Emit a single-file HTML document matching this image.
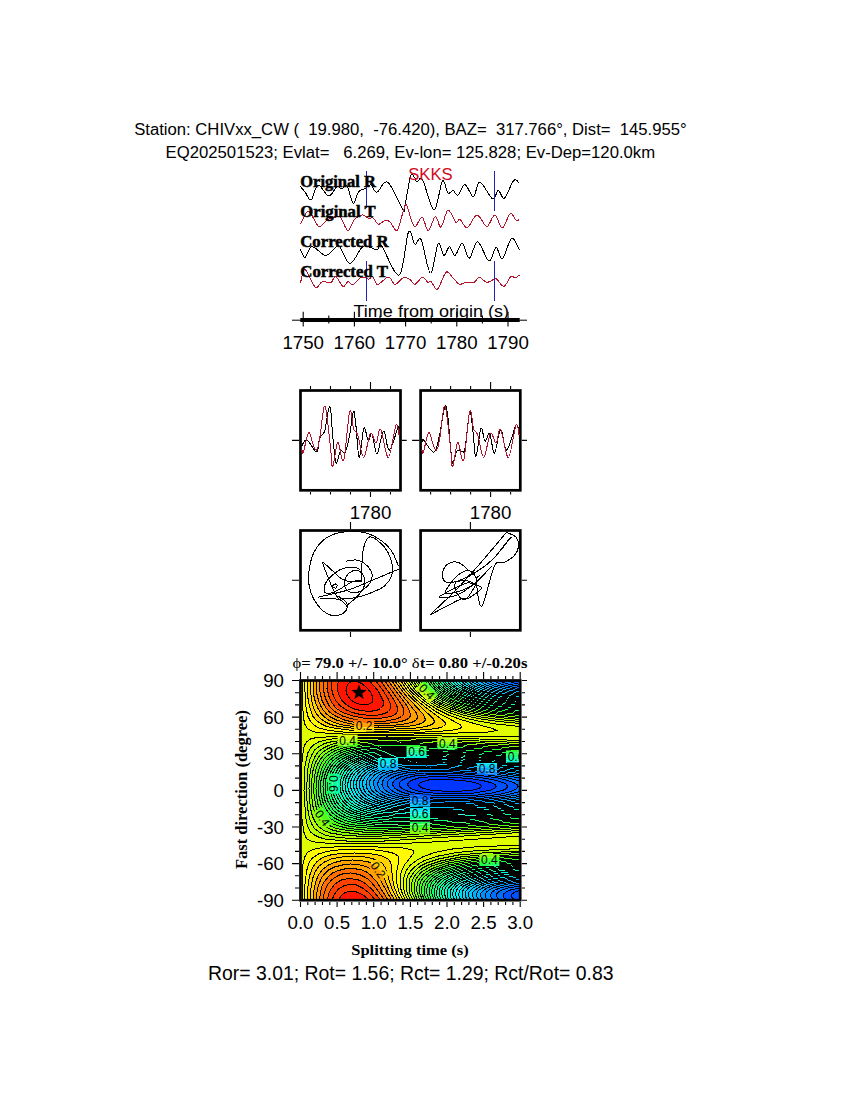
<!DOCTYPE html>
<html><head><meta charset="utf-8"><style>html,body{margin:0;padding:0;background:#fff;width:850px;height:1100px;overflow:hidden}svg{display:block}</style></head><body>
<svg width="850" height="1100" viewBox="0 0 850 1100"><text x="134.2" y="134.8" font-family='"Liberation Sans", sans-serif' font-size="16.00" font-weight="normal" fill="#000" text-anchor="start" textLength="552.5" lengthAdjust="spacingAndGlyphs" xml:space="preserve">Station: CHIVxx_CW (  19.980,  -76.420), BAZ=  317.766°, Dist=  145.955°</text>
<text x="165.6" y="157.6" font-family='"Liberation Sans", sans-serif' font-size="16.00" font-weight="normal" fill="#000" text-anchor="start" textLength="489.5" lengthAdjust="spacingAndGlyphs" xml:space="preserve">EQ202501523; Evlat=   6.269, Ev-lon= 125.828; Ev-Dep=120.0km</text>
<path d="M300.4 186.4 C301.2 187.3 303.2 189.8 305.0 192.0 C306.8 194.2 309.0 201.1 311.2 199.9 C313.4 198.7 315.1 185.7 318.0 185.0 C320.9 184.3 325.6 195.7 328.8 195.9 C332.0 196.1 334.9 187.6 337.0 186.4 C339.1 185.2 340.0 189.1 341.7 189.0 C343.4 188.9 345.1 183.3 347.0 185.7 C348.9 188.1 351.3 202.3 353.2 203.3 C355.1 204.3 356.6 194.3 358.6 191.8 C360.6 189.3 363.4 189.5 365.4 188.4 C367.4 187.3 368.9 184.4 370.8 185.0 C372.7 185.6 374.1 192.6 376.9 192.2 C379.7 191.8 383.3 179.3 387.7 182.3 C392.1 185.3 400.3 206.2 403.2 210.0 C406.1 213.8 403.8 210.8 405.0 205.2 C406.2 199.6 409.1 180.9 410.6 176.2 C412.1 171.5 413.1 176.1 414.2 177.0 C415.3 177.9 415.6 181.4 417.0 181.9 C418.4 182.4 419.8 175.1 422.6 179.8 C425.4 184.5 430.7 209.9 434.0 210.1 C437.3 210.3 440.1 184.0 442.4 181.2 C444.7 178.4 446.2 191.7 448.0 193.2 C449.8 194.7 451.3 190.1 453.0 190.4 C454.7 190.8 456.0 196.2 458.0 195.3 C460.0 194.4 462.4 184.5 465.0 184.7 C467.6 184.9 471.0 197.2 473.5 196.7 C476.0 196.2 476.6 181.6 479.8 181.9 C483.0 182.2 489.4 197.4 492.5 198.8 C495.6 200.2 496.2 190.5 498.2 190.4 C500.2 190.3 501.9 199.8 504.5 198.1 C507.1 196.4 511.2 183.0 513.7 180.5 C516.2 178.0 518.5 182.8 519.4 183.3" fill="none" stroke="#000" stroke-width="1" shape-rendering="crispEdges"/>
<path d="M300.4 224.3 C301.8 222.2 305.4 211.1 308.5 211.4 C311.6 211.7 315.5 225.0 318.7 226.3 C321.9 227.7 324.9 221.0 327.5 219.5 C330.1 218.0 332.1 217.9 334.2 217.5 C336.3 217.1 338.0 214.7 340.3 216.8 C342.6 219.0 345.4 230.0 347.8 230.4 C350.2 230.8 352.0 222.1 354.5 219.5 C357.0 216.9 360.4 215.0 362.6 214.8 C364.9 214.6 366.2 217.6 368.0 218.2 C369.8 218.8 371.8 217.2 373.5 218.2 C375.2 219.2 376.4 223.9 378.2 224.3 C380.0 224.8 382.4 221.4 384.3 220.9 C386.2 220.4 387.6 220.0 389.7 221.6 C391.8 223.2 394.9 232.1 397.1 230.4 C399.4 228.7 401.6 215.6 403.2 211.4 C404.8 207.2 404.8 202.8 406.6 205.3 C408.4 207.8 411.6 224.4 414.2 226.4 C416.8 228.4 419.6 216.5 422.0 217.2 C424.4 217.9 426.1 230.7 428.3 230.6 C430.5 230.5 433.3 217.1 435.4 216.5 C437.5 215.9 438.9 228.2 441.0 227.1 C443.1 226.0 445.5 210.9 448.0 210.1 C450.5 209.3 453.8 220.6 455.8 222.1 C457.8 223.6 458.1 218.4 460.0 219.3 C461.9 220.2 464.3 228.5 467.1 227.8 C469.9 227.1 473.7 215.3 477.0 215.1 C480.3 214.9 483.9 226.4 486.9 226.4 C489.8 226.4 492.1 214.9 494.7 215.1 C497.3 215.3 499.8 228.1 502.4 227.8 C505.0 227.6 507.8 214.8 510.2 213.6 C512.5 212.4 515.0 219.8 516.5 220.7 C518.0 221.6 518.9 219.5 519.4 219.3" fill="none" stroke="#b4142c" stroke-width="1" shape-rendering="crispEdges"/>
<path d="M300.4 249.4 C301.2 250.8 303.2 258.0 305.1 257.5 C307.0 257.0 308.5 246.9 311.9 246.6 C315.3 246.2 321.7 255.1 325.4 255.4 C329.1 255.8 331.8 250.2 334.2 248.7 C336.6 247.2 337.0 244.1 339.6 246.6 C342.2 249.1 346.2 263.4 349.8 263.6 C353.4 263.8 358.7 250.9 361.3 248.0 C363.9 245.1 363.4 245.9 365.4 246.0 C367.4 246.1 371.5 248.0 373.5 248.7 C375.5 249.4 376.1 250.4 377.5 250.0 C378.9 249.6 378.0 241.8 381.6 246.0 C385.2 250.2 394.7 277.3 399.2 275.0 C403.7 272.7 405.9 237.2 408.5 232.1 C411.1 226.9 412.8 242.8 414.9 244.1 C417.0 245.4 418.6 235.0 421.2 239.8 C423.8 244.6 427.6 272.4 430.4 273.0 C433.2 273.6 436.0 246.3 438.2 243.4 C440.4 240.5 441.9 254.8 443.8 255.4 C445.7 256.0 447.6 246.9 449.5 246.9 C451.4 246.9 453.0 256.0 455.1 255.4 C457.2 254.8 459.9 242.9 462.2 243.4 C464.5 243.9 466.6 258.4 469.2 258.2 C471.8 257.9 474.4 241.4 477.7 241.9 C481.0 242.4 485.9 260.1 489.0 261.0 C492.1 261.9 493.9 247.9 496.1 247.6 C498.3 247.2 499.8 260.4 502.4 258.9 C505.0 257.4 508.8 239.9 511.6 238.4 C514.4 236.9 518.1 247.8 519.4 249.7" fill="none" stroke="#000" stroke-width="1" shape-rendering="crispEdges"/>
<path d="M300.4 283.2 C301.2 280.9 302.6 268.9 305.1 269.6 C307.6 270.3 312.5 285.2 315.3 287.2 C318.1 289.2 319.4 282.6 322.0 281.8 C324.6 281.0 328.6 283.4 330.9 282.5 C333.2 281.6 333.6 275.7 335.6 276.4 C337.6 277.1 341.0 285.7 343.0 286.6 C345.0 287.5 346.1 282.2 347.8 281.8 C349.5 281.4 350.9 285.3 353.2 284.5 C355.4 283.7 358.7 278.0 361.3 277.1 C363.9 276.2 366.8 279.2 368.7 279.1 C370.6 279.0 371.3 275.5 372.8 276.4 C374.3 277.3 374.9 284.4 377.5 284.5 C380.1 284.6 385.5 277.1 388.4 277.1 C391.3 277.1 392.6 284.4 395.1 284.5 C397.6 284.6 400.7 278.7 403.2 277.8 C405.7 276.9 408.1 278.3 410.0 279.4 C411.9 280.5 412.8 284.7 414.9 284.3 C417.0 283.9 420.5 277.6 422.6 277.2 C424.7 276.8 426.2 281.5 427.6 282.2 C429.0 282.9 429.5 280.3 431.1 281.5 C432.8 282.7 435.0 290.7 437.5 289.2 C440.0 287.7 443.4 274.2 446.0 272.3 C448.6 270.4 450.8 275.9 453.0 277.9 C455.2 279.9 457.3 283.6 459.4 284.3 C461.5 285.0 463.2 282.6 465.7 282.2 C468.2 281.8 472.0 283.0 474.2 282.2 C476.4 281.4 477.1 277.2 479.1 277.2 C481.1 277.2 484.2 281.6 486.2 282.2 C488.2 282.8 489.5 281.4 491.1 280.8 C492.8 280.2 494.0 277.7 496.1 278.6 C498.2 279.5 501.3 286.8 503.8 286.4 C506.3 286.0 509.0 277.9 510.9 276.5 C512.8 275.1 513.7 278.1 515.1 277.9 C516.5 277.7 518.7 275.6 519.4 275.1" fill="none" stroke="#b4142c" stroke-width="1" shape-rendering="crispEdges"/>
<path d="M366.5 171 V207.5 M494.5 171 V211 M366.5 261 V300.5 M494.5 261 V300.5" stroke="#2222b8" stroke-width="1" shape-rendering="crispEdges"/>
<text x="300.3" y="186.8" font-family='"Liberation Serif", serif' font-size="16.20" font-weight="bold" fill="#000" text-anchor="start" textLength="75.5" lengthAdjust="spacingAndGlyphs" stroke="#000" stroke-width="0.5">Original R</text>
<text x="300.3" y="216.8" font-family='"Liberation Serif", serif' font-size="16.20" font-weight="bold" fill="#000" text-anchor="start" textLength="75.3" lengthAdjust="spacingAndGlyphs" stroke="#000" stroke-width="0.5">Original T</text>
<text x="300.3" y="246.6" font-family='"Liberation Serif", serif' font-size="16.20" font-weight="bold" fill="#000" text-anchor="start" textLength="88.3" lengthAdjust="spacingAndGlyphs" stroke="#000" stroke-width="0.5">Corrected R</text>
<text x="300.3" y="277.1" font-family='"Liberation Serif", serif' font-size="16.20" font-weight="bold" fill="#000" text-anchor="start" textLength="87.6" lengthAdjust="spacingAndGlyphs" stroke="#000" stroke-width="0.5">Corrected T</text>
<text x="408.2" y="179.7" font-family='"Liberation Sans", sans-serif' font-size="15.60" font-weight="normal" fill="#d00a1e" text-anchor="start" textLength="44.5" lengthAdjust="spacingAndGlyphs" >SKKS</text>
<path d="M292 320.2 H527" stroke="#000" stroke-width="1"/>
<path d="M300.3 320 H519.7" stroke="#000" stroke-width="3.8"/>
<path d="M303.2 311.8 V326.5 M354.4 311.8 V326.5 M405.6 311.8 V326.5 M456.8 311.8 V326.5 M508.0 311.8 V326.5 M328.8 315.5 V323.5 M380.0 315.5 V323.5 M431.2 315.5 V323.5 M482.4 315.5 V323.5 " stroke="#000" stroke-width="1.1"/>
<text x="353.5" y="316.8" font-family='"Liberation Sans", sans-serif' font-size="16.90" font-weight="normal" fill="#000" text-anchor="start" textLength="155.6" lengthAdjust="spacingAndGlyphs" >Time from origin (s)</text>
<text x="303.2" y="348.8" font-family='"Liberation Sans", sans-serif' font-size="18.70" font-weight="normal" fill="#000" text-anchor="middle" >1750</text>
<text x="354.4" y="348.8" font-family='"Liberation Sans", sans-serif' font-size="18.70" font-weight="normal" fill="#000" text-anchor="middle" >1760</text>
<text x="405.6" y="348.8" font-family='"Liberation Sans", sans-serif' font-size="18.70" font-weight="normal" fill="#000" text-anchor="middle" >1770</text>
<text x="456.8" y="348.8" font-family='"Liberation Sans", sans-serif' font-size="18.70" font-weight="normal" fill="#000" text-anchor="middle" >1780</text>
<text x="508.0" y="348.8" font-family='"Liberation Sans", sans-serif' font-size="18.70" font-weight="normal" fill="#000" text-anchor="middle" >1790</text>
<rect x="300.5" y="390.5" width="100.0" height="99.8" fill="none" stroke="#000" stroke-width="2.7"/>
<path d="M310.5 386.0 V389 M310.5 492 V494.5 M330.5 386.0 V389 M330.5 492 V494.5 M350.5 386.0 V389 M350.5 492 V494.5 M370.5 382.0 V389 M370.5 492 V497.0 M390.5 386.0 V389 M390.5 492 V494.5 " stroke="#000" stroke-width="1.1"/>
<text x="370.5" y="518.7" font-family='"Liberation Sans", sans-serif' font-size="18.70" font-weight="normal" fill="#000" text-anchor="middle" >1780</text>
<rect x="300.5" y="530.5" width="100.0" height="99.8" fill="none" stroke="#000" stroke-width="2.7"/>
<path d="M350.5 522 V529 M350.5 632 V637" stroke="#000" stroke-width="1.1"/>
<rect x="420.6" y="390.5" width="99.7" height="99.8" fill="none" stroke="#000" stroke-width="2.7"/>
<path d="M430.6 386.0 V389 M430.6 492 V494.5 M450.6 386.0 V389 M450.6 492 V494.5 M470.6 386.0 V389 M470.6 492 V494.5 M490.6 382.0 V389 M490.6 492 V497.0 M510.6 386.0 V389 M510.6 492 V494.5 " stroke="#000" stroke-width="1.1"/>
<text x="490.6" y="518.7" font-family='"Liberation Sans", sans-serif' font-size="18.70" font-weight="normal" fill="#000" text-anchor="middle" >1780</text>
<rect x="420.6" y="530.5" width="99.7" height="99.8" fill="none" stroke="#000" stroke-width="2.7"/>
<path d="M470.4 522 V529 M470.4 632 V637" stroke="#000" stroke-width="1.1"/>
<path d="M301.8 445.8 C302.6 444.8 304.4 439.0 306.9 440.0 C309.4 441.0 314.6 452.2 316.7 452.0 C318.8 451.8 318.3 441.9 319.6 438.5 C320.9 435.1 323.6 434.0 324.7 431.3 C325.8 428.6 325.4 426.6 326.2 422.5 C327.0 418.4 328.6 407.8 329.4 406.5 C330.2 405.2 330.8 411.1 331.2 414.5 C331.6 417.9 331.5 420.8 332.0 426.9 C332.5 433.0 333.5 444.8 334.2 450.9 C334.9 456.9 335.2 463.2 336.3 463.2 C337.4 463.2 339.2 452.7 340.7 450.9 C342.2 449.1 343.7 454.7 345.1 452.3 C346.6 449.9 348.0 443.1 349.4 436.3 C350.8 429.5 352.3 413.1 353.4 411.3 C354.5 409.5 354.9 417.7 355.9 425.4 C356.9 433.1 357.9 456.9 359.2 457.4 C360.5 457.9 362.4 431.1 363.9 428.3 C365.4 425.5 367.0 439.9 368.3 440.7 C369.6 441.5 370.4 431.2 371.9 433.4 C373.3 435.6 375.1 454.1 377.0 453.8 C378.9 453.5 381.4 431.9 383.5 431.3 C385.6 430.7 386.9 450.7 389.3 450.1 C391.7 449.5 396.4 431.1 398.0 427.6 C399.6 424.1 398.9 428.8 399.1 429.0" fill="none" stroke="#000" stroke-width="1" shape-rendering="crispEdges"/>
<path d="M301.8 449.4 C302.1 449.9 302.2 455.1 303.3 452.3 C304.4 449.5 307.1 434.1 308.7 432.7 C310.3 431.2 311.4 440.7 312.7 443.6 C314.0 446.5 315.4 450.6 316.5 450.0 C317.6 449.4 318.2 447.2 319.5 440.0 C320.8 432.8 322.9 409.5 324.3 406.5 C325.7 403.5 326.6 415.0 327.6 421.8 C328.6 428.6 329.6 439.7 330.5 447.2 C331.4 454.7 331.5 467.7 332.7 466.9 C333.9 466.1 336.0 443.3 337.8 442.2 C339.6 441.1 341.6 465.4 343.6 460.3 C345.6 455.2 348.0 416.8 349.7 411.6 C351.4 406.4 352.4 425.2 353.7 429.1 C355.0 433.0 356.0 430.2 357.7 434.9 C359.4 439.6 361.6 457.6 363.7 457.4 C365.8 457.1 368.4 435.8 370.5 433.4 C372.6 431.0 374.3 443.6 376.0 443.0 C377.7 442.4 378.5 427.1 380.6 429.5 C382.7 431.9 385.8 458.1 388.4 457.4 C390.9 456.7 394.1 429.1 395.9 425.4 C397.7 421.6 398.6 433.3 399.1 434.9" fill="none" stroke="#b4142c" stroke-width="1" shape-rendering="crispEdges"/>
<path d="M422.2 441.4 C422.5 441.2 422.1 438.5 424.0 440.3 C425.9 442.1 431.2 453.0 433.8 452.3 C436.4 451.6 437.5 443.8 439.3 436.3 C441.1 428.8 443.3 410.9 444.7 407.3 C446.1 403.7 446.6 407.9 447.6 414.5 C448.6 421.1 449.6 439.1 450.5 447.2 C451.4 455.3 451.6 462.6 452.7 463.2 C453.8 463.8 455.5 452.8 457.1 450.9 C458.7 449.0 460.9 452.1 462.2 451.6 C463.5 451.1 463.9 454.6 465.1 448.0 C466.4 441.4 468.4 414.7 469.7 412.0 C471.0 409.3 472.0 424.6 473.0 432.0 C474.0 439.4 474.6 457.3 475.9 456.7 C477.2 456.1 479.5 430.9 481.0 428.3 C482.5 425.8 483.6 440.5 485.0 441.4 C486.4 442.2 488.1 431.4 489.7 433.4 C491.3 435.4 492.6 454.0 494.4 453.4 C496.2 452.8 498.5 430.4 500.6 429.8 C502.7 429.2 504.2 450.8 506.8 450.1 C509.4 449.4 513.9 428.5 515.9 425.4 C517.9 422.3 518.3 430.3 518.8 431.3" fill="none" stroke="#000" stroke-width="1" shape-rendering="crispEdges"/>
<path d="M421.8 449.4 C422.1 449.9 422.2 455.1 423.3 452.3 C424.4 449.5 427.1 434.1 428.7 432.7 C430.3 431.2 431.4 440.7 432.7 443.6 C434.0 446.5 435.4 450.6 436.5 450.0 C437.6 449.4 438.2 447.2 439.5 440.0 C440.8 432.8 442.9 409.5 444.3 406.5 C445.7 403.5 446.6 415.0 447.6 421.8 C448.6 428.6 449.6 439.7 450.5 447.2 C451.4 454.7 451.5 467.7 452.7 466.9 C453.9 466.1 456.0 443.3 457.8 442.2 C459.6 441.1 461.6 465.4 463.6 460.3 C465.6 455.2 468.0 416.8 469.7 411.6 C471.4 406.4 472.4 425.2 473.7 429.1 C475.0 433.0 476.0 430.2 477.7 434.9 C479.4 439.6 481.6 457.6 483.7 457.4 C485.8 457.1 488.4 435.8 490.5 433.4 C492.6 431.0 494.3 443.6 496.0 443.0 C497.7 442.4 498.5 427.1 500.6 429.5 C502.7 431.9 505.8 458.1 508.4 457.4 C510.9 456.7 514.1 429.1 515.9 425.4 C517.7 421.6 518.6 433.3 519.1 434.9" fill="none" stroke="#b4142c" stroke-width="1" shape-rendering="crispEdges"/>
<path d="M398.4 566.0 C397.2 563.4 394.6 555.0 391.2 550.4 C387.8 545.8 382.8 541.4 378.0 538.4 C373.2 535.4 368.8 533.1 362.4 532.2 C356.0 531.2 346.0 531.4 339.6 532.6 C333.2 533.9 328.4 536.0 324.0 539.6 C319.6 543.2 315.8 548.0 313.2 554.0 C310.6 560.0 309.0 569.2 308.6 575.6 C308.2 582.0 309.2 587.4 310.8 592.4 C312.4 597.4 315.2 602.0 318.0 605.6 C320.8 609.2 324.6 612.4 327.6 614.0 C330.6 615.6 333.4 615.5 336.0 615.4 C338.6 615.3 341.3 614.7 343.2 613.4 C345.1 612.1 346.9 609.3 347.4 607.4 C347.9 605.5 347.3 603.6 346.2 602.0 C345.1 600.4 342.5 598.9 340.8 597.8 C339.1 596.7 336.8 595.8 336.0 595.4 M361.2 581.6 C361.3 579.0 361.4 571.6 361.8 566.0 C362.2 560.4 362.4 552.8 363.6 548.0 C364.8 543.2 366.6 538.4 369.0 537.2 C371.4 536.0 374.9 538.4 378.0 540.8 C381.1 543.2 385.2 547.4 387.6 551.6 C390.0 555.8 391.8 561.8 392.4 566.0 C393.0 570.2 392.6 573.4 391.2 576.8 C389.8 580.2 387.2 583.8 384.0 586.4 C380.8 589.0 376.4 590.6 372.0 592.4 C367.6 594.2 363.0 596.1 357.6 597.2 C352.2 598.3 345.9 598.8 339.6 599.0 C333.3 599.2 323.1 598.5 319.8 598.4 M318.0 597.2 C323.0 596.0 339.0 592.8 348.0 590.0 C357.0 587.2 363.5 583.9 372.0 580.4 C380.5 576.9 394.5 570.9 399.0 569.0 M362.4 581.6 C359.4 581.4 349.6 582.4 344.4 580.4 C339.2 578.4 334.8 572.6 331.2 569.6 C327.6 566.6 323.6 561.8 322.8 562.4 C322.0 563.0 325.0 569.4 326.4 573.2 C327.8 577.0 329.4 581.2 331.2 585.2 C333.0 589.2 335.2 594.4 337.2 597.2 C339.2 600.0 341.5 600.4 343.2 602.0 C344.9 603.6 346.7 606.0 347.4 606.8 M345.6 561.2 C347.4 561.0 353.2 559.6 356.4 560.0 C359.6 560.4 362.4 561.8 364.8 563.6 C367.2 565.4 369.6 568.4 370.8 570.8 C372.0 573.2 372.6 575.4 372.0 578.0 C371.4 580.6 369.6 584.0 367.2 586.4 C364.8 588.8 360.8 591.6 357.6 592.4 C354.4 593.2 350.2 592.6 348.0 591.2 C345.8 589.8 344.6 586.6 344.4 584.0 C344.2 581.4 345.4 577.8 346.8 575.6 C348.2 573.4 350.8 571.6 352.8 570.8 C354.8 570.0 357.0 570.0 358.8 570.8 C360.6 571.6 362.6 573.6 363.6 575.6 C364.6 577.6 365.0 580.4 364.8 582.8 C364.6 585.2 364.0 587.4 362.4 590.0 C360.8 592.6 357.6 596.0 355.2 598.4 C352.8 600.8 349.2 603.4 348.0 604.4 M361.2 580.4 C359.8 580.6 355.6 580.6 352.8 581.6 C350.0 582.6 347.2 584.8 344.4 586.4 C341.6 588.0 338.8 590.0 336.0 591.2 C333.2 592.4 329.6 593.8 327.6 593.6 C325.6 593.4 324.2 592.0 324.0 590.0 C323.8 588.0 324.6 584.4 326.4 581.6 C328.2 578.8 332.0 575.4 334.8 573.2 C337.6 571.0 340.0 569.4 343.2 568.4 C346.4 567.4 351.2 567.0 354.0 567.2 C356.8 567.4 359.0 569.2 360.0 569.6 M332.4 586.4 C332.8 586.0 334.0 584.2 334.8 584.0 C335.6 583.8 337.1 584.5 337.2 585.2 C337.3 585.9 336.2 588.0 335.4 588.2 C334.6 588.4 332.9 586.7 332.4 586.4" fill="none" stroke="#000" stroke-width="1" shape-rendering="crispEdges"/>
<path d="M429.6 615.2 C434.0 611.0 447.6 598.6 456.0 590.0 C464.4 581.4 471.6 573.2 480.0 563.6 C488.4 554.0 502.0 537.6 506.4 532.4 M506.4 532.4 C508.0 533.2 514.0 534.8 516.0 537.2 C518.0 539.6 518.8 543.6 518.4 546.8 C518.0 550.0 516.0 553.8 513.6 556.4 C511.2 559.0 507.2 560.8 504.0 562.4 C500.8 564.0 498.1 558.7 494.4 566.0 C490.7 573.3 484.8 603.8 481.8 606.2 C478.8 608.6 476.7 585.5 476.4 580.4 C476.1 575.3 479.4 576.4 480.0 575.6 M511.2 537.2 C510.0 538.6 506.8 542.2 504.0 545.6 C501.2 549.0 497.6 554.2 494.4 557.6 C491.2 561.0 488.8 563.0 484.8 566.0 C480.8 569.0 474.6 573.2 470.4 575.6 C466.2 578.0 462.0 579.4 459.6 580.4 C457.2 581.4 456.6 581.4 456.0 581.6 M508.8 539.6 C507.6 541.2 504.4 545.8 501.6 549.2 C498.8 552.6 495.6 556.6 492.0 560.0 C488.4 563.4 484.0 567.0 480.0 569.6 C476.0 572.2 470.0 574.6 468.0 575.6 M468.0 569.6 C466.6 568.5 462.4 564.2 459.6 563.0 C456.8 561.8 453.8 561.5 451.2 562.4 C448.6 563.3 445.4 565.8 444.0 568.4 C442.6 571.0 442.2 575.6 442.8 578.0 C443.4 580.4 445.4 582.2 447.6 582.8 C449.8 583.4 453.0 582.0 456.0 581.6 C459.0 581.2 462.8 580.2 465.6 580.4 C468.4 580.6 471.6 582.4 472.8 582.8 M429.6 615.2 C434.6 612.6 453.2 602.4 459.6 599.6 C466.0 596.8 464.4 600.2 468.0 598.4 C471.6 596.6 479.8 591.0 481.2 588.8 C482.6 586.6 478.6 586.2 476.4 585.2 C474.2 584.2 471.4 582.4 468.0 582.8 C464.6 583.2 460.8 585.2 456.0 587.6 C451.2 590.0 439.2 595.9 439.2 597.2 C439.2 598.5 450.2 597.6 456.0 595.4 C461.8 593.2 468.0 588.9 474.0 584.0 C480.0 579.1 489.0 569.0 492.0 566.0 M456.0 581.6 C455.8 582.6 454.2 585.0 454.8 587.6 C455.4 590.2 457.8 595.3 459.6 597.2 C461.4 599.1 463.4 600.2 465.6 599.0 C467.8 597.8 471.0 593.1 472.8 590.0 C474.6 586.9 476.6 583.4 476.4 580.4 C476.2 577.4 473.4 573.6 471.6 572.0 C469.8 570.4 468.2 570.0 465.6 570.8 C463.0 571.6 459.4 573.2 456.0 576.8 C452.6 580.4 445.4 589.8 445.2 592.4 C445.0 595.0 450.6 593.4 454.8 592.4 C459.0 591.4 465.8 589.2 470.4 586.4 C475.0 583.6 480.4 577.4 482.4 575.6" fill="none" stroke="#000" stroke-width="1" shape-rendering="crispEdges"/>
<path d="M292 440.4 H299 M402 440.4 H406.7 M412.1 440.4 H419.2 M522 440.4 H527" stroke="#000" stroke-width="1.1"/>
<path d="M292 580.3 H299 M402 580.3 H406.7 M412.1 580.3 H419.2 M522 580.3 H527" stroke="#000" stroke-width="1.1"/>
<clipPath id="cp"><rect x="300.5" y="680.5" width="219.7" height="219.7"/></clipPath>
<g clip-path="url(#cp)">
<mask id="lm" maskUnits="userSpaceOnUse" x="0" y="0" width="850" height="1100"><rect x="0" y="0" width="850" height="1100" fill="#fff"/><rect x="354.1" y="719.6" width="20" height="12" fill="#000" transform="rotate(0 364.1 725.6)"/><rect x="337.6" y="734.6" width="20" height="12" fill="#000" transform="rotate(0 347.6 740.6)"/><rect x="378.0" y="758.0" width="20" height="12" fill="#000" transform="rotate(0 388.0 764.0)"/><rect x="323.8" y="777.6" width="20" height="12" fill="#000" transform="rotate(90 333.8 783.6)"/><rect x="416.9" y="685.6" width="20" height="12" fill="#000" transform="rotate(45 426.9 691.6)"/><rect x="437.3" y="737.2" width="20" height="12" fill="#000" transform="rotate(0 447.3 743.2)"/><rect x="406.5" y="746.0" width="20" height="12" fill="#000" transform="rotate(0 416.5 752.0)"/><rect x="477.0" y="763.0" width="20" height="12" fill="#000" transform="rotate(0 487.0 769.0)"/><rect x="506.0" y="750.4" width="20" height="12" fill="#000" transform="rotate(0 516.0 756.4)"/><rect x="410.0" y="794.5" width="20" height="12" fill="#000" transform="rotate(0 420.0 800.5)"/><rect x="410.0" y="808.0" width="20" height="12" fill="#000" transform="rotate(0 420.0 814.0)"/><rect x="410.0" y="821.7" width="20" height="12" fill="#000" transform="rotate(0 420.0 827.7)"/><rect x="479.4" y="854.0" width="20" height="12" fill="#000" transform="rotate(0 489.4 860.0)"/><rect x="312.6" y="812.0" width="20" height="12" fill="#000" transform="rotate(55 322.6 818.0)"/><rect x="368.3" y="863.8" width="20" height="12" fill="#000" transform="rotate(55 378.3 869.8)"/></mask>
<path d="M338.5 681l0 -.5l30.5 0l7 8l5 8l2.5 6l-1 4l-1.5 2l-4.5 2l-8 1l-10 -1.5l-5.5 -1.5l-4 -2l-6.5 -5.5l-2 -2.5l-2 -4l-1 -6l0 -4zM348.5 891.5l4 0l6 1l6 3.5l4.5 4l-30.5 0l2 -3l2 -2.5l2 -1.5z" fill="#ff1400" fill-rule="evenodd"/>
<path d="M328.5 680.5l10 0l-1 6l0 4l1 3.5l3.5 6.5l4 4l4.5 3l6 2l6 1.5l6 .5l8 -1l4.5 -2l1.5 -2l1 -4l-2.5 -6l-5 -8l-7 -8l11.5 0l10 14l5 8l2 6l-.5 4l-2 2l-4.5 2l-8 1.5l-8 .5l-8 0l-8 -1l-8 -2l-6 -2l-4 -2.5l-4 -3l-3.5 -3.5l-2.5 -4l-2.5 -6l-1 -6l.5 -8zM342.5 879.5l4 -1l6 0l6 1.5l4 1.5l4 3l4 3.5l10 12l-11.5 0l-4.5 -4l-4 -2.5l-4 -1.5l-4 -.5l-4 0l-4 1.5l-3.5 3l-2.5 4l-11 0l2 -8l3 -5l4 -4z" fill="#ff4100" fill-rule="evenodd"/>
<path d="M320.5 680.5l7 0l-.5 8l2 8l1.5 4l2.5 4l5.5 5.5l6 3.5l8 2.5l10 2l10 .5l8 0l8 -1.5l6 -2l2.5 -2.5l.5 -4l-2 -6l-5 -8l-10 -14l7.5 0l20.5 28l2 4l0 2l-.5 2l-1.5 2l-6 2.5l-8 1.5l-12 1l-12 0l-12 -1l-10 -1.5l-8.5 -2.5l-5.5 -3l-4.5 -3l-3.5 -4l-2.5 -4l-2.5 -6l-1.5 -6l-.5 -10l0 -2zM340.5 869.5l8 -1l8 .5l6 1.5l6 3l4 3.5l4 4.5l11.5 18.5l-7.5 0l-8 -10l-6.5 -6l-3.5 -2.5l-4 -1.5l-8 -1.5l-8 1l-6 3.5l-3.5 3l-2.5 4l-2 4.5l-1 5.5l-8 0l.5 -6l1.5 -6l4 -8l5.5 -6l3.5 -2z" fill="#ff6e00" fill-rule="evenodd"/>
<path d="M314.5 680.5l5 0l.5 10l2 10l4.5 8l6 6l7.5 4l10.5 3l12 1.5l14 .5l12 0l10 -1.5l8 -2.5l2 -1l1.5 -2l.5 -2l0 -2l-2 -4l-20.5 -28l6.5 0l10 13.5l19 20.5l1.5 4l0 2l-2.5 2.5l-8 2.5l-12 1.5l-16 .5l-16 0l-16 -1l-12 -1.5l-8.5 -2.5l-5.5 -2.5l-4 -3l-4 -4l-2.5 -4.5l-3 -8l-1.5 -8l-.5 -12zM346.5 860.5l10 -.5l8 1l6 2l6 3l2 2l3 4l7.5 18l5.5 10l-6.5 0l-11.5 -18.5l-4 -4.5l-4 -3.5l-4 -2.5l-4 -1l-10 -1.5l-6 .5l-6 1l-4 2l-4 2.5l-4 4l-4 7l-2 6.5l-1 8l-6.5 0l1 -10l1.5 -8l3 -7l3 -5l5 -4l6 -3l6 -1.5z" fill="#ffa100" fill-rule="evenodd"/>
<path d="M308.5 680.5l4.5 0l.5 10l1 8l2.5 8l3 6l4 4l2.5 2l4 2.5l6 2l8 2l10 1.5l14 1l14 0l26 -1l10 -2l4.5 -2l2 -2l0 -2l-1.5 -4l-19 -20.5l-10 -13.5l6 0l6 9l8 8.5l10 8.5l18.5 14l2 2l.5 2l-3 2.5l-10 2l-17.5 1.5l-20.5 .5l-24 0l-20 -.5l-14 -2l-10 -2l-6 -3l-4 -3l-3.5 -4l-1.5 -4l-2.5 -8l-1.5 -10l-.5 -14zM334.5 854l16 -1l16 .5l12 1.5l5 1.5l3.5 2l2.5 2l1.5 3.5l2.5 20l3 8l4 8l-6 0l-5.5 -10l-7.5 -18l-3 -4l-2 -2l-4 -2.5l-6 -2l-6 -1l-8 -.5l-10 .5l-7.5 2l-6.5 2.5l-5 3l-4.5 6l-3 6l-2 10l-1 10l-6 0l.5 -10l1 -10l2 -8l2.5 -6l3.5 -4l5 -3.5l5 -2.5z" fill="#ffd200" fill-rule="evenodd"/>
<path d="M302.5 680.5l4.5 0l.5 12l1 10l2 8l2.5 6l3.5 4l4 3l4 2l6 2l10 2l12.5 1l37.5 .5l34 -1l11.5 -1.5l7.5 -2l2 -2l-.5 -2l-2 -2l-16.5 -12.5l-10 -8l-9 -9.5l-7 -10l5 0l5.5 8l7.5 7.5l8 6.5l10 6.5l12 6l12 4.5l12 3.5l20 5.5l4 2l-8.5 1.5l-7.5 .5l-66 1.5l-72 0l-18 -1l-10 -1l-4 -1.5l-3 -2l-2.5 -4l-1 -4l-2 -18l0 -22zM318.5 848l22 -1.5l38 .5l26 1l4 .5l5 2l.5 2l-9.5 12.5l-2.5 5l-2 6l0 6l.5 6l2 6l3 6l-5 0l-4 -8l-3.5 -10l-2 -18l-.5 -2l-2 -2.5l-5 -3l-7 -2l-10 -1l-12 -.5l-14 .5l-10 1.5l-8 2.5l-6 4.5l-4 5.5l-3 8.5l-1.5 10l-1 14l-5 0l.5 -28l.5 -8l1.5 -6l1.5 -3.5l2.5 -3l4 -2z" fill="#fffa00" fill-rule="evenodd"/>
<path d="M302 682.5l.5 26l2 14l1.5 4l2.5 2.5l4 2l4 1l12 1.5l18 .5l76 0l60 -1.5l7.5 -.5l6.5 -1.5l-4 -2l-20 -5.5l-12 -3.5l-12 -4.5l-12 -6l-10 -6.5l-8 -6.5l-7.5 -7.5l-5.5 -8l5 0l4 5.5l3.5 4.5l8.5 7.5l12 7.5l12 5.5l14 4.5l16 3.5l17.5 2.5l22 2l0 17l-87.5 -3l-62 -.5l-22 1l-14 .5l-11 2l-7 2.5l-4 2.5l-2 2.5l-3 6.5l-2 10l-1 14l0 22l1.5 18l2.5 10l2 3l3 3l3 2l4 1.5l10 2l16 1l22 0l38 -1l113.5 -7.5l0 16l-41.5 2l-22 2l-18 3.5l-14 4.5l-6 3.5l-4 3l-4 4l-3 5l-1.5 6l0 6l1.5 6l3 6l-5 0l-2 -4l-3 -10l-.5 -8l1 -6l1.5 -4l4 -6l6.5 -7.5l1 -2l-.5 -2l-5 -2l-6 -.5l-32 -1.5l-38 .5l-10 .5l-8 1.5l-4 1.5l-3 2l-1.5 2l-1.5 4l-1.5 5.5l-.5 8l-.5 28l-1.5 0l0 -219.5l1.5 0z" fill="#dffe00" fill-rule="evenodd"/>
<path d="M412.5 680.5l3 0l5.5 8l9.5 8l10 6.5l10 4.5l14 4.5l16 3l17.5 2.5l22 2l0 4l-22 -2l-17.5 -2.5l-16 -3.5l-14 -4.5l-14 -6.5l-12 -8l-4.5 -4l-5.5 -6l-4 -6zM338.5 738.5l26 -1l38 -.5l95.5 2.5l22 1l0 4l-93.5 -4l-44 -1l-20 1l-16 1l-12 2l-8 2.5l-4 2.5l-4 3l-2.5 3l-2 4l-2.5 6l-1 6l-1.5 16l1 18l2.5 12l2 4l2.5 4l3.5 3.5l4 2.5l6 2.5l10 2l10 1l14 .5l30 -1l125.5 -7l0 4l-111.5 7l-34 1.5l-22 0l-18 -1l-10 -1l-8 -2.5l-4 -3l-4 -5l-2 -6l-1 -8l-1 -14l-.5 -18l1 -14l1.5 -11l1.5 -5l2 -4l4.5 -4.5l4 -2l5 -1.5zM484 850l36 -1.5l0 4l-36 2l-21.5 2.5l-18 3l-14 4l-6 3l-4.5 3l-4 4l-2.5 4l-1.5 4l-.5 6l1 6l3 6l-5 0l-3 -6l-1 -4l-.5 -6l.5 -4l1 -4l3 -5l4 -4l4 -3l10 -5l14 -4l20 -3z" fill="#b7ff00" fill-rule="evenodd"/>
<path d="M416.5 680.5l3.5 0l6 8l10 8l8.5 5l8 3l14 4.5l14 3l19.5 2.5l20 2l0 3l-22 -2l-17.5 -2.5l-16 -3l-14 -4.5l-12 -6l-10 -6.5l-9 -8.5l-4 -6zM360.5 740.5l24 -1l28 .5l93.5 3.5l14 1l0 3l-91.5 -4.5l-38 -1l-18 .5l-16 1.5l-12 1.5l-10 3l-8 4.5l-4 3.5l-3 4l-2 4l-2 6l-1 6l-.5 8l0 8l.5 8l1.5 6l2 6l2 4l3 4l3.5 3l4 2.5l8 3l8 1.5l10 1l12 .5l30 -.5l121.5 -6l0 3l-123.5 7l-26 1l-16 -.5l-12 -1l-10 -1.5l-8.5 -3l-5.5 -4l-3 -4l-3 -6.5l-2.5 -9.5l-1 -12l.5 -14l1 -12l2.5 -8l2 -4l3.5 -5l4 -3l4 -2.5l6 -2l8 -1.5zM490 854l30 -1.5l0 3.5l-30 1.5l-23.5 2.5l-18 3l-14 4.5l-5.5 2.5l-4.5 3.5l-3 2.5l-3 4l-1.5 4l-.5 6l1 4l2.5 6l-4.5 0l-3 -6l-1 -4l0 -4l.5 -4l1.5 -4l2.5 -4l4 -4l4.5 -3l10 -4.5l14 -3.5l16 -2.5z" fill="#88ff04" fill-rule="evenodd"/>
<path d="M420.5 680.5l4 0l4.5 6l7.5 6.5l9 5.5l11 4.5l12 3.5l14 3l15.5 2.5l22 1.5l0 3l-20 -2l-19.5 -2.5l-14 -3l-12 -3.5l-12 -5.5l-9.5 -5.5l-8.5 -8zM378.5 742.5l44 .5l97.5 4.5l0 2.5l-89.5 -4.5l-36 -1l-18 .5l-14 1l-12 2l-10 3l-6 2.5l-4 3l-5.5 6l-4 8l-1.5 6l-1 6l0 12l1 6l2 6l2 4l3 4.5l3.5 3.5l4.5 3l7 3l9 2l10 1.5l12 .5l38 -1l109.5 -5l0 3l-121.5 6l-26 .5l-16 -.5l-11.5 -1l-8.5 -2l-8 -4l-5.5 -4l-4 -6l-2.5 -6l-2 -9l-1 -11l1 -12l2 -8.5l3 -7.5l3 -4l4.5 -4l5.5 -3l6 -2.5l16 -3zM512 856l8 0l0 2.5l-30 2l-21.5 2.5l-16 2.5l-14.5 4.5l-5.5 3.5l-4 2.5l-5 6l-1.5 4l-.5 4l.5 4l2.5 6l-4.5 0l-1 -2l-2 -6l-.5 -4l.5 -4l1.5 -3l2 -3.5l3 -3.5l5 -3.5l4 -2.5l12 -4l16 -3l23.5 -3z" fill="#4fff15" fill-rule="evenodd"/>
<path d="M426.5 680.5l3 0l5 6.5l8 6l8 4.5l8 3.5l12 3.5l13.5 3l16 2l20 2l0 2l-22 -1.5l-15.5 -2.5l-14 -3l-12 -3.5l-11 -4.5l-9.5 -6l-7 -6l-4.5 -6zM360.5 746.5l12 -1.5l16 -.5l36 .5l95.5 5l0 2.5l-89.5 -5l-32 -.5l-16 0l-14 1l-12 2l-10 2.5l-6 3l-4 2l-6 6l-3.5 5l-1.5 4l-2 10l-.5 6l.5 6l3 10l2 4l3.5 4l4.5 3.5l4 2.5l8 3l8 1.5l10 1.5l12 .5l24 0l48 -1.5l69.5 -3.5l0 2.5l-57.5 3l-82 3l-14 -.5l-12 -1l-10 -2l-8 -2.5l-6 -4l-4 -3.5l-3 -4.5l-3 -7.5l-2 -8.5l0 -8l.5 -8l2 -8l2.5 -6l3 -4l6.5 -6l5.5 -3l6 -2zM492 860l28 -1.5l0 2.5l-28 2l-19.5 2l-16 3l-13.5 4l-7.5 4l-3 3l-3 3l-2 4l-1 4l.5 4l2.5 6l-5 0l-1.5 -4l-1 -4l-.5 -4l1 -4l4 -6l4 -3.5l3.5 -2.5l10.5 -4l12 -3l16 -3z" fill="#2cff2f" fill-rule="evenodd"/>
<path d="M430.5 680.5l3.5 0l5 6l5.5 4.5l8 4.5l10 4l12 3.5l11.5 2.5l16 2l18 1.5l0 2.5l-20 -2l-16 -2l-11.5 -2.5l-12 -3.5l-10 -4l-9.5 -5l-7 -6l-4.5 -6zM366.5 748.5l26 -1.5l34 .5l93.5 5l0 2.5l-85.5 -5l-32 -1l-16 .5l-14 1l-12 1.5l-8.5 2.5l-9 4l-4.5 3l-3 3l-3 4l-2 4l-1.5 4l-1 6l0 10l1.5 6l2 4l2.5 4l3.5 4l5 3.5l4 2l8 2.5l8 2l10 1l14 .5l26 0l42 -1l65.5 -3.5l0 2.5l-63.5 3l-72 2l-14 -.5l-12 -1l-10 -2l-8 -3l-6 -4l-4 -3.5l-3 -4.5l-2.5 -6l-1.5 -6l-.5 -8l1 -8l1.5 -6l1.5 -4l3.5 -5l4 -4.5l4 -2.5l6 -3l6 -2zM500 862l20 -1l0 2.5l-24 1.5l-19.5 2l-16 3l-12 3.5l-9 4.5l-3 3l-3 3l-1.5 4l-.5 4l1 4l1.5 4l-4.5 0l-1 -2l-1.5 -4l-.5 -4l1.5 -6l2.5 -3l2.5 -3l7.5 -4.5l10 -4l12 -3l18 -2.5z" fill="#1fff52" fill-rule="evenodd"/>
<path d="M434.5 680.5l4.5 0l5 6l5.5 4l7 4l10 3.5l10 3l11.5 2.5l14 1.5l18 2l0 2l-18 -1.5l-16 -2l-11.5 -2.5l-12 -3.5l-10 -4l-8 -4.5l-6 -5zM372.5 750.5l24 -1.5l34 1l89.5 5l0 2.5l-83.5 -5l-32 -1l-16 0l-12 1l-10 1.5l-10 2.5l-9 4l-7.5 6l-3 4l-2 4l-2.5 8l0 6l.5 4l3 8l2.5 4l4 3.5l8 5l8 2.5l8 2l10 1l14 1l26 0l38 -1l65.5 -3l0 2l-61.5 3.5l-68 1l-14 -.5l-12 -1l-10 -2l-8 -2.5l-6 -3.5l-5 -4l-3 -4l-3 -6l-1.5 -6l0 -8l.5 -6l2 -6l2 -4l3 -4l4.5 -4l4.5 -3l6 -2.5l6 -2zM506 864l14 -.5l0 2l-22 1.5l-17.5 2l-14 2.5l-12 3.5l-6 2.5l-4.5 2.5l-3.5 3.5l-2.5 2.5l-.5 2l-1 4l.5 4l2 4l-5 0l-1 -2l-1 -4l-.5 -4l2 -6l5 -4.5l8 -5l10 -3.5l14 -3l15.5 -2z" fill="#13ff76" fill-rule="evenodd"/>
<path d="M440.5 680.5l3.5 0l4.5 5l6 4.5l6 3l9 3.5l9 2.5l11.5 2.5l30 3l0 2.5l-18 -2l-14 -1.5l-11.5 -2.5l-10 -3l-10 -3.5l-8 -4.5l-6 -5l-3.5 -4.5zM378.5 752.5l24 -1l34 1l83.5 5l0 2l-75.5 -4.5l-36 -1.5l-26 1l-10 1l-10 2.5l-11 4.5l-7 5.5l-4.5 6.5l-2.5 8l.5 8l1 4l1.5 4l3 4l3 2.5l8 5l6.5 2.5l9.5 2l12 1.5l14 .5l28 .5l34 -.5l29.5 -1.5l32 -2l0 2.5l-61.5 3l-62 1l-16 -.5l-12 -1.5l-10 -2l-9.5 -3l-4.5 -3l-4 -3l-3.5 -4l-3 -6l-1 -6l-.5 -6l1 -6l2 -6l2.5 -4l4 -4l4.5 -3.5l4 -2l12 -4zM508 866l12 -.5l0 2l-20 1.5l-17.5 2l-14 3l-10 3l-8 3.5l-4 3l-2.5 2.5l-1.5 3.5l-1 2.5l.5 4l2 4l-5 0l-1 -2l-1.5 -6l1 -4l.5 -2l2.5 -2.5l3.5 -3.5l6.5 -3.5l10 -3.5l12 -3l15.5 -2z" fill="#06ff99" fill-rule="evenodd"/>
<path d="M444.5 680.5l4.5 0l3.5 4l5.5 4l6.5 3l8 3l10 3l9.5 2l28 3l0 2l-30 -3l-11.5 -2.5l-9 -2.5l-10.5 -4l-6.5 -4l-5.5 -4zM382.5 754.5l24 -1l36 1l77.5 5l0 2l-67.5 -4.5l-40 -1.5l-26 1l-12 1.5l-8 2l-10 4l-6.5 4.5l-4.5 6l-2 4l-1 4l0 4l.5 4l2.5 6l5 6l8 4.5l8 3l10 2l12 1.5l14 1l26 0l32 0l29.5 -1.5l30 -2l0 2l-32 2l-29.5 1.5l-34 .5l-26 0l-16 -1l-14 -2l-10 -2.5l-8 -3.5l-5 -3.5l-3 -3.5l-3 -4.5l-1.5 -4l-.5 -4l0 -6l1.5 -6l2 -4l5.5 -6.5l4 -3l5 -2.5l13 -4zM510 868l10 -.5l0 2l-18 1.5l-16 2l-11.5 2l-11 3l-8.5 4l-3 2l-3.5 4l-1 2l-.5 4l1 4l1 2l-5 0l-1 -2l-1.5 -6l1 -2.5l1.5 -3.5l4 -4l7 -4l9.5 -3l12 -3l15.5 -2z" fill="#00fcb8" fill-rule="evenodd"/>
<path d="M450.5 680.5l4.5 0l3.5 4l4 2.5l6.5 3.5l7.5 2.5l17.5 4.5l26 3l0 2l-28 -3l-9.5 -2l-10 -3l-8 -3l-6.5 -3l-5.5 -4l-3.5 -4zM388.5 756.5l28 -1l42 2l61.5 4l0 2.5l-55.5 -4l-46 -2l-26 .5l-18 2.5l-10 3l-7.5 4.5l-4.5 4l-3.5 6l-1 4l0 4l1.5 6l4 6l5 4l8 3.5l8 2.5l12 2l16 1.5l26 .5l32 -.5l29.5 -1l30 -2.5l0 2.5l-32 2l-31.5 1.5l-34 0l-26 -.5l-16 -1.5l-13 -2l-9 -3.5l-8 -4.5l-3.5 -4l-2.5 -4l-1.5 -4l-.5 -4l0 -4l1 -4l2 -4l2.5 -4l4.5 -4l3 -2l9 -4l10 -2.5zM512 870l8 -.5l0 2.5l-18 1.5l-16 2l-12.5 2.5l-9 3.5l-5.5 2.5l-2.5 2l-3 4l-1 4l1 4l1.5 2l-6 0l-1 -2l-1 -4l0 -2l1.5 -4l4 -4l8 -4.5l9.5 -3.5l10.5 -2l13.5 -2z" fill="#00f6d4" fill-rule="evenodd"/>
<path d="M456.5 680.5l4.5 0l3.5 3.5l3.5 2.5l12.5 5l17.5 4l22 3l0 2l-26 -3l-17.5 -4.5l-7.5 -2.5l-7.5 -4l-3 -2.5l-3.5 -3.5zM392.5 758.5l14 -.5l16 0l48 2.5l49.5 3.5l0 2l-47.5 -3.5l-46 -2.5l-26 .5l-19 2l-9 2l-8 3.5l-5.5 4.5l-3.5 4l-2 6l.5 6l2.5 6l4 4l7 4l9 3l12 2.5l16 1.5l26 1l30 -.5l29.5 -1l30 -2.5l0 2l-32 2.5l-29.5 1l-32 .5l-26 -1l-16 -1.5l-14 -2.5l-10 -4l-7 -5l-4 -6l-1.5 -4l-.5 -4l1 -4l1.5 -4l4.5 -6l6 -4.5l8.5 -3.5l9.5 -2.5zM514 872l6 0l0 2l-16 1.5l-14 2l-11.5 2.5l-8 2.5l-7 3.5l-3.5 4l-1.5 4l1 4l1.5 2l-6 0l-1.5 -2l-1 -4l.5 -2l1.5 -4l4.5 -4l5.5 -2.5l9 -3.5l10.5 -2l14 -2.5z" fill="#00f0f0" fill-rule="evenodd"/>
<path d="M462.5 680.5l5 0l4.5 4l3.5 2l10.5 4l16 3.5l18 2l0 2.5l-22 -3l-17.5 -4l-12.5 -5l-3.5 -2.5l-3.5 -3.5zM398.5 760.5l30 -.5l52 3l39.5 3l0 2.5l-41.5 -3.5l-46 -2.5l-25.5 0l-18.5 1.5l-8 2l-7.5 2.5l-6.5 3.5l-4 4l-2.5 4.5l-.5 4l1.5 6l3 4l5 4l9.5 4l12 2.5l16 2l26 1l30 0l29.5 -1.5l28 -2.5l0 2.5l-30 2.5l-29.5 1l-32 .5l-26 -1.5l-16 -1.5l-14 -3l-9 -4l-3 -2.5l-4 -3.5l-2.5 -6l-.5 -6l2 -6l3 -3.5l2.5 -2.5l7 -4l8.5 -3l10 -2zM518 874l2 0l0 2l-26 3.5l-10 2l-8.5 2.5l-7 4l-3 4l-.5 4l2.5 4l-6.5 0l-1.5 -2l-1 -4l1.5 -4l3.5 -4l7.5 -4l9.5 -2.5l9.5 -2z" fill="#00dcf6" fill-rule="evenodd"/>
<path d="M468.5 680.5l6 0l2.5 2l5.5 3l11.5 4l12 2.5l14 2l0 2l-18 -2l-16 -3.5l-6 -2l-5.5 -2.5l-5 -3.5l-2 -2zM408.5 762.5l32 .5l53.5 3l26 2.5l0 3l-32 -3.5l-43.5 -3l-28 -.5l-20 1.5l-14 3l-6 2l-5.5 3.5l-3.5 4l-1.5 4l0 4l2 4l2.5 2.5l4 3l8 3.5l11 3l15 2l26 1l28 0l27.5 -1l30 -3l0 2.5l-30 2.5l-29.5 1.5l-30 0l-26 -1.5l-18 -2l-12 -3.5l-8.5 -4.5l-2 -2l-3 -4l-1.5 -4l.5 -6l2 -4l1.5 -2l5.5 -4l7.5 -3.5l8 -2l10 -1.5zM520 876l0 2.5l-24 3l-10 2.5l-5 2l-4.5 3l-3.5 3l-.5 2l0 2l2 4l-7 0l-1.5 -2l-1 -4l2 -4l3.5 -3l5 -3l8.5 -2.5l10 -2z" fill="#00c8fc" fill-rule="evenodd"/>
<path d="M476.5 680.5l6.5 0l5 3l7.5 3l10.5 2.5l14 2l0 3l-16 -2.5l-14 -3l-10 -4l-5.5 -4zM394.5 766l12 -1l16 -.5l44 2l27.5 2l26 3l0 3l-32.5 -4l-41 -3l-30 -.5l-12 1l-8 1l-8 2l-8.5 3.5l-4.5 4l-2 4l0 4l1 2l3.5 4l6.5 3.5l7 2.5l9.5 2l11.5 1.5l26 1.5l20 0l22 -1l21.5 -2l18 -2l0 3l-26 2.5l-23.5 1.5l-24 .5l-24 -.5l-18 -1.5l-14 -2.5l-11.5 -3l-7 -4l-4 -4l-2 -4l0 -4l.5 -2l2.5 -4l5 -4l4.5 -2.5l6 -2zM506 880l14 -1.5l0 2.5l-20.5 3l-7.5 2l-6 2.5l-3.5 3l-2 2.5l0 2l1 2l1.5 2l-8.5 0l-1.5 -2l-.5 -2l0 -2l.5 -2l1.5 -2l4 -2.5l9.5 -4z" fill="#00aeff" fill-rule="evenodd"/>
<path d="M484 680.5l9.5 0l3.5 2l5 2l7.5 2l10.5 2l0 2.5l-14 -2l-10.5 -2.5l-7.5 -3l-5 -3zM402.5 768l14 -1l18 0l26 1.5l25.5 2l34 4l0 3.5l-24 -4l-37.5 -3l-32 -1l-12 0l-10 1.5l-8 1.5l-8 3l-4 2.5l-2.5 4l.5 4l3 4l7 3.5l7 2.5l10 2l15 1.5l16 1l18 0l18 -1l17.5 -1.5l16.5 -2l9.5 -2l0 4l-22 2.5l-25.5 2l-24 .5l-24 -.5l-18 -2l-14 -2.5l-10 -3.5l-4.5 -2.5l-2 -2l-2.5 -4l0 -4l2 -4l2 -2l5 -3.5l6 -2zM512 882l8 -1l0 3l-14 2.5l-6 1.5l-5 2l-3 2l-1 2l-.5 2l1 2l2 2l-10.5 0l-1.5 -2l-1 -2l0 -2l1.5 -2l2 -2l3 -2l11 -3.5z" fill="#008eff" fill-rule="evenodd"/>
<path d="M494 680.5l13 0l5 2l8 2l0 4l-10.5 -2l-7.5 -2l-5 -2l-3.5 -2zM412.5 770.5l24 -.5l32 1.5l29.5 3l22 3.5l0 16.5l-22 3.5l-21.5 2l-24 1l-22.5 -.5l-19.5 -2l-12 -2.5l-10 -3.5l-3 -2l-3 -4l-.5 -4l1 -2l4.5 -4l4 -2l6.5 -2zM410 774.5l-8.5 2l-5 2.5l-2 1.5l-1.5 2l-.5 2l1 2l1.5 2l3.5 2l4 2l8 2l18 2.5l24 1l24 -1l22 -2.5l9 -2l6 -2l3 -2l1.5 -2l-1 -2l-3.5 -2l-5.5 -2l-10 -2.5l-17.5 -2.5l-20 -1.5l-22 -1l-16 0zM520 884l0 4l-9.5 2l-4.5 2l-2.5 2l-.5 2l1 2l3 2l-13.5 0l-2 -2l-1 -2l.5 -2l1 -2l6 -3l9 -3z" fill="#006eff" fill-rule="evenodd"/>
<path d="M508 680.5l12 0l0 4l-8 -2l-5 -2zM410.5 774.5l14 -1.5l16 0l22 1l18 1.5l17.5 2.5l10 2.5l5.5 2l3.5 2l1 2l-1.5 2l-3 2l-6 2l-9 2l-22 2.5l-24 1l-24 -1l-18 -2.5l-8 -2l-4 -2l-3.5 -2l-1.5 -2l-1 -2l.5 -2l1.5 -2l2 -1.5l5 -2.5zM417.5 778.5l-6.5 2l-2.5 2l-1 2l1 2l2.5 2l5 2l9 2l7.5 .5l20 1l22 -1l15 -2.5l5 -2l1.5 -2l-1 -2l-4.5 -2l-8 -2l-13 -2l-29 -2l-12 .5zM518 888l2 0l0 12l-13 0l-3 -2l-1 -2l.5 -2l2.5 -2l4.5 -2z" fill="#0052ff" fill-rule="evenodd"/>
<path d="M418.5 778l10 -1l12 -.5l29 2l13 2l8 2l4.5 2l1 2l-1.5 2l-5 2l-15 2.5l-22 1l-20 -1l-7.5 -.5l-9 -2l-5 -2l-2.5 -2l-1 -2l1 -2l2.5 -2z" fill="#0036ff" fill-rule="evenodd"/>
<path mask="url(#lm)" d="M350.5 682l-2 1.5l-2 3l-.5 4l1 4l3.5 5l4 3l8 2.5l6 -.5l3.5 -2l1 -2l-.5 -4l-2 -4.5l-4 -4.5l-4 -3.5l-4 -2l-4 -1zM338.5 680.5l-1 6l0 4l1 3.5l3.5 6.5l4 4l6.5 4l8 2l8 1l8 -1l4 -2l2 -2l1 -2l-.5 -4l-2 -4l-2.5 -5l-4 -5l-5.5 -6M369 900l-4.5 -4l-4 -2.5l-4 -1.5l-4 -.5l-4 0l-4 1.5l-3.5 3l-2.5 4M332 680.5l-.5 8l1.5 6l2.5 6l5 5.5l6 4l6 2.5l8 2l10 1l8 -.5l6 -1.5l4 -2l2 -3l0 -4l-2.5 -6l-5 -8l-7.5 -10M375.5 900l-7 -7.5l-6 -4.5l-6 -3l-6 -.5l-6 1l-6 3.5l-4 5l-2.5 6M327.5 680.5l-.5 8l2 8l2.5 6l5 6l6 4l10 3.5l10 2l10 .5l10 -.5l8.5 -1.5l4 -2l2 -2l.5 -2l-.5 -4l-2.5 -6l-14 -20M380.5 900l-8 -10l-6.5 -6l-3.5 -2.5l-4 -1.5l-8 -1.5l-8 1l-4 2l-4 3l-4 5.5l-2 4.5l-1 5.5M323 680.5l.5 10l2 8l4 8l5 5l8 4.5l8 2.5l10 2l14 1l12 -.5l10 -2l5 -2.5l2 -2l.5 -2l-.5 -4l-2 -4l-17 -24M384.5 900l-10 -14l-6 -6.5l-4 -2.5l-4 -2l-4 -1l-6 -1l-6 .5l-4 1l-4 2l-5 3.5l-3 3.5l-2.5 4.5l-2 6l-1 6M319.5 680.5l0 8l1 6l1.5 6l2 4l2.5 4l3.5 4l4.5 3l4 2l6 2.5l8 2l18 1.5l20 -.5l8 -1l6 -1.5l4 -2l1.5 -2l.5 -2l-1 -4l-3.5 -6l-18 -24M388 900l-11.5 -18.5l-6 -6.5l-4 -3l-4.5 -2l-5.5 -1l-6 -.5l-6 .5l-6 1.5l-6 2.5l-4 3.5l-4 5l-2.5 4.5l-1.5 6.5l-1 7.5M316 680.5l.5 8l.5 6l1.5 6l2.5 6l2.5 4l3.5 4l3.5 2.5l6 3l8 2.5l10 2l12 1l12 .5l12 -.5l11.5 -1l9.5 -2l4 -2l1.5 -2l.5 -2l-1.5 -4l-17.5 -22l-7 -10M391.5 900l-13 -23.5l-6 -6.5l-4 -2.5l-6 -2l-6 -1l-6 -.5l-8 1l-8 2l-6 3l-4 4l-3 4l-3 7l-1.5 7l-1 8M313 680.5l0 8l1 8l1.5 6l2.5 6l2.5 4.5l4 4l4 3l5.5 2.5l8.5 2.5l10.5 1.5l13.5 1l14 0l26.5 -1l11.5 -2l4.5 -2l2 -2l0 -2l-1.5 -4l-19 -20.5l-10 -13.5M394.5 900l-5.5 -10l-6.5 -16l-4 -6l-4 -3l-6 -3l-8 -1.5l-8 -.5l-10 .5l-8 2l-6 2.5l-6 4.5l-4 5.5l-3 7l-1.5 8l-1 10M310 680.5l.5 10l1 8l1 6l2 6l2.5 4l3.5 4l4 3l6 3l8 2l12 1.5l30 1.5l32 -1l13.5 -2l6 -2l2 -2l0 -2l-1 -2l-23 -22l-7 -8l-5.5 -8M397.5 900l-6 -12l-6 -20l-3 -4.5l-4.5 -3l-6 -2l-9.5 -2l-10 0l-10 .5l-10 1.5l-8 3.5l-5.5 4l-4 6l-2.5 7l-1.5 9l-1 12M307 680.5l1 18l1.5 8l2 6l1.5 4l3.5 4l4 3l6 3l10 2l12 1.5l18 1l22 0l24 -.5l16 -1l10 -1.5l5 -1.5l1 -1l1 -1l-.5 -2l-2 -2l-16.5 -12.5l-10 -8l-9 -9.5l-7 -10M400.5 900l-3.5 -6l-3 -8l-1.5 -8l-1.5 -14l-.5 -2l-2 -2.5l-5 -3l-7 -2l-10 -1l-12 -.5l-14 .5l-10 1.5l-8 2.5l-6 4.5l-4 5.5l-3 8.5l-1.5 10l-1 14M304.5 680.5l1 22l1 8l1.5 6l2 4l2.5 3l3.5 3l4.5 2l9 2l13 1.5l42 1l30 -.5l22 -1l14 -1l10 -2l1 -2l-1.5 -2l-23.5 -12.5l-10 -7l-6 -4.5l-10.5 -10l-7 -10M403 900l-4 -8l-2.5 -10l0 -10l2.5 -11.5l-.5 -4l-2.5 -2l-1.5 -1l-8 -2l-12 -1.5l-18 -.5l-18 .5l-12 1.5l-8 2.5l-6 4l-2 2.5l-2 3.5l-2 7.5l-1.5 12.5l-.5 16M302 680.5l.5 26l1.5 14l1 4l2.5 4l3 2l4 1.5l10 1l18 1l72 0l66 -1.5l7.5 -.5l8.5 -1.5l-4 -2l-20 -5.5l-12 -3.5l-12 -4.5l-12 -6l-10 -6.5l-8 -6.5l-7.5 -7.5l-5.5 -8M405.5 900l-3 -6l-2 -6l-.5 -6l0 -6l2 -6l2.5 -5l9.5 -12.5l-.5 -2l-7 -2l-8 -1l-42 -1l-22 .5l-14 1l-8 1.5l-5 3l-2.5 4l-2 7.5l-1 14l0 22M520 726.5l-24 -2.5l-15.5 -2.5l-16 -3.5l-14 -5l-14 -6.5l-12 -8l-9 -8l-7.5 -10M520 836l-77.5 5.5l-40 2l-60 0l-18 -.5l-10 -1l-5 -1.5l-3 -2l-1 -2l-1.5 -4l-2 -14l-.5 -28l.5 -28l1.5 -14l1.5 -4l1.5 -2.5l4 -3l4 -1l18 -1.5l40 -1l70 .5l77.5 1M408 900l-3 -6l-2 -8l0 -6l1.5 -5l2 -5l4 -5l6 -4.5l6 -3.5l12 -4.5l18 -3.5l22 -2l45.5 -2M520 723.5l-22 -2l-17.5 -2.5l-16 -3.5l-14 -4.5l-12 -5.5l-12 -7.5l-8.5 -7.5l-3.5 -4.5l-4 -5.5M520 832.5l-135.5 8.5l-38 0l-12 -1l-10 -1l-6 -2l-4 -2l-3.5 -2.5l-2.5 -4.5l-2 -5.5l-1 -8l-1.5 -24l1 -24l1.5 -8l1.5 -6l2.5 -4.5l3.5 -3.5l4.5 -2.5l5 -1.5l9 -1.5l12 -1l42 -1l52 .5l81.5 3M410.5 900l-3 -6l-1.5 -6l0 -6l1.5 -6l3 -5l4 -4l4 -3l6 -3.5l14 -4.5l18 -3.5l22 -2l41.5 -2M520 721.5l-22 -2l-17.5 -2.5l-16 -3.5l-14 -4.5l-12 -5.5l-11 -7l-9 -8l-5.5 -8M520 830.5l-139.5 8l-30 0l-12 -1l-8 -1l-7 -2l-5 -3l-4 -3l-2.5 -4l-2.5 -6l-1.5 -8l-1 -10l-.5 -12l1.5 -20l1.5 -8l2.5 -6l2.5 -4.5l4.5 -3.5l5.5 -3l6 -1.5l10 -1.5l14 -1.5l38 -.5l46 1l81.5 3M413 900l-3 -6l-1 -6l0 -6l1 -4l2.5 -4l4 -4.5l4 -3.5l6 -3l12 -4l20 -4l24 -2l37.5 -2M520 719.5l-22 -2l-17.5 -2.5l-16 -3l-12 -4l-12 -5l-10.5 -6.5l-9 -8l-5.5 -8M520 828.5l-137.5 7.5l-26 0l-12 -.5l-8 -1.5l-6 -1l-6.5 -2.5l-5.5 -4l-3 -4l-3 -6l-2 -8l-1 -10l-.5 -10l.5 -10l1 -9l2 -7l2.5 -6l3.5 -5l4 -3l6 -3l8 -2.5l10 -1.5l14 -1l36 -1l42 1.5l81.5 3.5M415.5 900l-3 -6l-1 -4l0 -6l1 -4l2 -4l4 -4.5l4 -3.5l6 -3l12 -4l20 -4l23.5 -2.5l36 -2M520 718l-24 -2l-15.5 -2.5l-14 -3l-12 -3.5l-12 -5l-10 -6l-9 -7.5l-6 -8M520 827l-137.5 7l-24 0l-18 -2l-8 -2l-6 -2.5l-4.5 -3l-3.5 -4.5l-3 -5.5l-2.5 -8l-1 -8l-.5 -10l.5 -10l1 -8l2.5 -8l3 -5.5l4 -4.5l4 -3l6 -3l8 -2l10 -1.5l14 -1.5l34 -.5l34 1l87.5 4M417.5 900l-2.5 -6l-1 -4l.5 -6l1 -4l2.5 -4l3.5 -4l5 -3l5 -3l15 -4.5l16 -3l25.5 -2.5l32 -1.5M520 716.5l-20 -2l-19.5 -2.5l-14 -3l-12 -3.5l-12 -5.5l-9.5 -5.5l-7 -6l-6 -8M520 825.5l-135.5 6.5l-22 0l-18 -2l-8 -1.5l-6 -2.5l-5.5 -3.5l-3.5 -4l-3.5 -6l-2 -6l-1.5 -8l-1 -10l1 -10l1 -8l2 -6l3.5 -6l3.5 -4l6 -4l8 -3.5l8 -2l22 -2l32 -1l34 1.5l85.5 4M420 900l-2.5 -6l-1 -4l.5 -4l.5 -4l2.5 -4l3.5 -4l5 -3.5l6 -3l14 -4.5l18 -3l23.5 -2.5l30 -1.5M520 715l-20 -1.5l-17.5 -2.5l-14 -3l-12 -3.5l-12 -5l-8.5 -5l-7.5 -6.5l-6 -7.5M520 824l-131.5 6l-24 0l-16 -1.5l-8 -2l-6.5 -2l-5.5 -3.5l-4.5 -4.5l-3.5 -5.5l-2.5 -6.5l-1.5 -8l-.5 -8l.5 -10l2 -8l2 -6l4 -6l4.5 -4l5.5 -3.5l6.5 -2.5l8.5 -2l11 -1.5l12 -1l30 -.5l34 1l83.5 4.5M422.5 900l-2.5 -6l-1 -4l.5 -4l1 -4l2.5 -4l3.5 -3l4 -3l6 -3l12 -4l18 -3.5l21.5 -2.5l32 -2M520 713.5l-22 -1.5l-15.5 -2.5l-14 -3l-12 -3.5l-11 -4.5l-9 -5.5l-7.5 -6.5l-4.5 -6M520 822.5l-51.5 2.5l-78 3.5l-24 -.5l-16 -1.5l-8 -2l-6 -2l-6 -4l-4 -3.5l-3 -4.5l-2.5 -6l-2 -8l-.5 -8l.5 -8l1.5 -8l2 -6l4 -6l4 -4l6 -4l8 -3l8 -2l10 -1.5l12 -1l30 -.5l30 1l85.5 4.5M424.5 900l-2.5 -6l-.5 -4l.5 -4l1.5 -4l5 -6l4 -2.5l6 -3.5l14 -4.5l16 -2.5l21.5 -2.5l30 -2M520 712.5l-18 -1.5l-18 -2.5l-13.5 -2.5l-12 -3.5l-10 -4l-10 -6l-7 -6l-4.5 -6M520 821l-49.5 3l-76 2.5l-22 0l-18 -1.5l-8 -1.5l-6 -2.5l-6 -3l-4.5 -3.5l-4.5 -6l-2.5 -6l-1.5 -6l-1 -8l.5 -8l2 -8l2.5 -6l4 -6l5 -4l6 -3.5l7 -2.5l9 -2l22 -2.5l28 0l30 1l83.5 4.5M427 900l-2 -4l-1 -4l.5 -4l1 -4l2.5 -4l2.5 -2.5l4.5 -3.5l5.5 -2.5l12 -4l18 -3.5l21.5 -2.5l28 -1.5M520 711.5l-20 -2l-16 -2l-11.5 -2.5l-12 -3.5l-10 -4l-9.5 -5l-7 -6l-4.5 -6M520 820l-53.5 3l-68 2l-24 0l-18 -2l-8 -1.5l-6 -2l-6 -3.5l-4.5 -3.5l-4.5 -6l-2.5 -6l-1.5 -6l-.5 -8l1 -8l1.5 -6l3 -6l4 -5.5l6 -4.5l6 -3l8 -2.5l8 -2l20 -2l28 0l28 1l83.5 4.5M429.5 900l-2 -4l-1 -4l.5 -4l1 -4l2.5 -3l2.5 -3l5.5 -3.5l4.5 -2.5l13.5 -4l16 -3l19.5 -2l28 -2M520 710l-18 -1.5l-16 -2l-11.5 -2.5l-12 -3l-10 -4l-8.5 -4.5l-7.5 -6l-5 -6M520 819l-51.5 2.5l-66 2l-26 0l-18 -2l-8 -1.5l-6 -2.5l-6 -3l-5 -4l-3 -4.5l-3 -5.5l-1.5 -6l-.5 -8l.5 -8l2 -6l3 -6l3.5 -4l4.5 -4l7.5 -4l6.5 -2l9.5 -2l20 -2l28 -.5l109.5 6M431.5 900l-1.5 -4l-1 -4l.5 -4l1 -2.5l1.5 -3.5l4.5 -4l8 -4.5l12 -4l16 -3l21.5 -2.5l26 -2M520 709l-18 -1.5l-16 -2l-11.5 -2.5l-12 -3.5l-10 -4l-8 -4.5l-5.5 -4.5l-5 -6M520 817.5l-53.5 3l-56 1.5l-28 0l-20 -1.5l-8 -2l-7.5 -2l-6.5 -4l-4 -3l-4 -5l-2 -4l-2 -6l-1 -8l1 -8l2 -6l3.5 -6l3.5 -4l5 -3.5l6 -3l8 -3l8 -1.5l20 -2l26 -.5l28 1.5l81.5 4.5M434 900l-1.5 -4l-1 -4l1 -6l2 -2.5l2.5 -3.5l5.5 -3.5l4.5 -2.5l11.5 -3.5l16 -3l19.5 -2.5l26 -1.5M520 708l-32 -3.5l-11.5 -2.5l-12 -3l-10 -4l-8 -4.5l-5 -4l-5 -6M520 816.5l-49.5 2.5l-54 1.5l-32 0l-20 -1.5l-8 -2l-8 -2.5l-6 -3.5l-3.5 -2.5l-3.5 -4l-3 -6l-2 -6l-.5 -6l1 -8l2 -6l3.5 -5.5l4 -4l6 -4l5 -2.5l7 -2.5l10 -2l20 -1.5l26 0l105.5 5.5M436.5 900l-2 -4l-.5 -4l1.5 -6l3 -4l2 -2l8 -4.5l12 -4l14 -3l19.5 -2.5l26 -1.5M520 707l-18 -2l-14 -1.5l-11.5 -2.5l-10 -3l-10 -3.5l-7 -4l-5.5 -4l-5 -6M520 815.5l-47.5 2.5l-52 1.5l-32 -.5l-22 -1.5l-8 -2l-8 -2.5l-5 -2.5l-5 -4l-3.5 -4l-2.5 -5.5l-1.5 -4.5l-.5 -6l.5 -6l2 -6l3 -6l4 -4l5.5 -4l7 -3.5l8 -2l8 -1.5l20 -2l24 0l32 1.5l73.5 4.5M439 900l-2 -4l-.5 -4l1 -4l.5 -2l2.5 -2.5l3.5 -3.5l7 -4l12 -4l15.5 -2.5l17.5 -2.5l24 -1.5M520 706l-30 -3.5l-11.5 -2.5l-10 -2.5l-8.5 -3l-7.5 -4l-6 -4.5l-5 -5.5M520 814.5l-45.5 2.5l-44 1l-38 0l-22 -2l-8 -1.5l-8 -2l-6 -3l-4.5 -3l-3.5 -4l-2.5 -4l-2.5 -6l-.5 -6l.5 -6l2 -6l3 -5.5l4 -4l6 -4l5.5 -2.5l6.5 -2l10 -2l20 -2l24 0l32 1.5l71.5 4.5M441.5 900l-2 -4l-.5 -4l1 -4l1 -2l5.5 -5l8 -4.5l12 -3.5l13.5 -3l18 -2l22 -1.5M520 704.5l-30 -3l-11.5 -2.5l-9 -2.5l-9 -3.5l-6 -3l-6 -4.5l-4.5 -5M520 813l-43.5 3l-44 1l-36 -.5l-24 -1.5l-8 -1.5l-8 -2.5l-5.5 -2.5l-4.5 -3.5l-4 -4l-3 -4.5l-1.5 -4l-.5 -6l.5 -6l2 -6l2.5 -4l4 -4.5l5 -3.5l7 -3.5l8 -2l8 -1.5l20 -2l24 0l38 2l63.5 4M444 900l-2.5 -6l.5 -4l.5 -2l3 -4l2.5 -2l7 -4l11.5 -3.5l14 -3l17.5 -2.5l22 -1.5M520 703.5l-28 -3l-19.5 -4.5l-10 -3.5l-6 -3.5l-6.5 -4.5l-3.5 -4M520 812l-41.5 2.5l-40 1.5l-38 -.5l-24 -1.5l-8.5 -1.5l-7.5 -2.5l-6 -2.5l-5 -3l-4.5 -4l-2.5 -4l-1.5 -4l-1 -6l.5 -6l2 -6l2.5 -4l4 -4l5.5 -3.5l6 -3l8 -2l8 -1.5l20 -2l24 0l42 2.5l57.5 3.5M446.5 900l-2 -6l0 -4l1 -2l1.5 -2l3.5 -3l8 -4.5l10 -3.5l14 -2.5l17 -2.5l20.5 -1.5M520 702.5l-28 -3l-9.5 -2l-10 -3l-8 -3l-6.5 -3l-5.5 -4l-3.5 -4M520 811l-41.5 2.5l-40 1l-38 0l-23 -2l-9 -2l-7.5 -2l-4.5 -2l-6 -4l-3.5 -4l-2.5 -4l-1.5 -4l-.5 -6l1 -6l2 -4l2.5 -4l4.5 -4l6 -3.5l6 -2.5l8 -2l8 -1.5l20 -1.5l24 .5l46 2.5l49.5 3M449 900l-1 -2l-1 -4l.5 -4l1 -2l4 -4l8 -4.5l10 -3.5l13.5 -2.5l16 -2l20 -2M520 701.5l-26 -3l-18 -4l-7.5 -2.5l-7 -3.5l-6 -4l-3.5 -4M520 810l-39.5 2.5l-38 1l-38 -.5l-24 -2l-8 -1.5l-8 -2l-6 -2.5l-4 -2.5l-4.5 -4l-2.5 -4l-2 -4l-.5 -6l1 -6l2 -4l3 -4l5 -4l4.5 -2.5l6 -2.5l8 -2l8 -1.5l20 -1.5l24 .5l48 2.5l45.5 3.5M452 900l-1.5 -3l-.5 -3l.5 -4l2 -2.5l3 -3.5l7 -4l10 -3l13.5 -3l15.5 -2l18.5 -1M520 700.5l-26 -3l-17.5 -4.5l-7.5 -2.5l-6.5 -3.5l-4 -2.5l-3.5 -4M520 808.5l-37.5 3l-36 1l-36 -.5l-26 -2l-16 -3l-6.5 -2.5l-5.5 -3.5l-3 -2.5l-3 -4l-2 -4l-1 -6l1.5 -6l2 -4l3.5 -4l4 -3l5.5 -3l6.5 -2.5l16 -3l18 -1l26 0l48 3l41.5 3M455 900l-1.5 -2l-1 -4l1 -4l3 -4l2.5 -2l5.5 -2.5l9 -3.5l12.5 -2.5l16 -2l18 -1.5M520 699.5l-24 -3l-17.5 -4l-8 -3l-6 -3l-4 -3l-3 -3M520 807.5l-37.5 3l-36 1l-36 -.5l-24 -2l-8 -1.5l-8 -2l-6 -2.5l-5 -2.5l-4.5 -4l-2.5 -4l-1.5 -4l-.5 -4l.5 -4l1.5 -4l3 -4l5 -4l6 -3.5l6 -2l16 -3l20 -1l24 .5l48 2.5l39.5 3M457.5 900l-1 -2.5l-1 -3.5l1 -4l3.5 -4l6.5 -4l10 -3l11.5 -2.5l16 -2.5l16 -1M520 698.5l-22 -3l-15.5 -3.5l-8 -2.5l-6 -3l-4 -2.5l-3.5 -3.5M520 806.5l-36 2.5l-33.5 1.5l-34 -.5l-26 -2l-16 -3l-6 -2l-5 -2.5l-5 -4l-3 -4l-1.5 -4l-.5 -4l.5 -4l1.5 -4l3.5 -4l5 -4l10.5 -4.5l7 -1.5l9 -1.5l18 -1l26 .5l46 2.5l39.5 3M461 900l-1.5 -2l-1 -4l1.5 -4l3.5 -4l7 -3.5l8 -2.5l11.5 -2.5l14 -2l16 -1.5M520 697.5l-22 -3l-15.5 -3.5l-11 -4.5l-3 -2l-4.5 -4M520 805l-34 3l-33.5 1l-34 0l-26 -2l-16 -3.5l-6 -2l-6 -3l-2.5 -2l-3.5 -4l-1.5 -4l-1 -4l1 -4l2 -4l3.5 -4l4 -3l6 -3l6 -2l14 -2.5l18 -1l26 .5l47.5 3l36 3M464 900l-2 -4l0 -4l3 -4l6 -4l9.5 -3l9.5 -2.5l14 -2l16 -1.5M520 696l-18 -2l-15.5 -3.5l-11 -4l-3.5 -2l-4.5 -4M520 804l-32 2.5l-33.5 1.5l-32 0l-26 -2l-16 -3l-6 -2l-5.5 -2.5l-3 -2l-4 -4l-2 -4l-.5 -4l.5 -4l2 -4l4 -4l3 -2l5.5 -3l6 -1.5l16 -3l20 -1l26 1l43.5 2.5l34 3M467.5 900l-2.5 -4l.5 -4l3 -4l7 -4l8.5 -2.5l10 -2l26 -3.5M520 695l-18.5 -2.5l-13.5 -3l-9.5 -4l-5.5 -3l-2 -2M520 802.5l-32 3l-29.5 1.5l-32 -.5l-26 -1.5l-16 -3l-6 -1.5l-6 -3l-4 -2.5l-3 -2.5l-2 -4l-1 -4l.5 -4l2.5 -4l3 -3l4 -2.5l5.5 -2.5l6.5 -2l14 -2.5l20 -.5l28 .5l37.5 2.5l36 3.5M471 900l-2.5 -4l.5 -4l3.5 -3.5l4 -2.5l7.5 -3l10 -2.5l26 -3M520 694l-16 -2.5l-14 -3l-10 -4l-5.5 -4M520 801.5l-30 3l-29.5 1l-30 0l-26 -1.5l-16 -2.5l-6 -2l-6 -2.5l-4.5 -2.5l-3.5 -3.5l-1.5 -2.5l-1 -4l.5 -3.5l1 -2.5l3.5 -4l3.5 -2.5l6 -2.5l6 -2l16 -2.5l20 -.5l28 1l39.5 2.5l30 3.5M474.5 900l-2 -4l0 -2l.5 -2l3.5 -3l4.5 -3l5 -2l10 -2.5l24 -3M520 692.5l-14.5 -2l-11.5 -2.5l-9 -3.5l-6 -4M520 800l-26 3l-29.5 1.5l-30 0l-26 -1.5l-16.5 -2.5l-12 -4l-3.5 -2l-4.5 -4l-1.5 -2.5l-1 -3.5l.5 -4l1.5 -2l3 -3.5l4.5 -2.5l4.5 -2l7 -2l15 -2l21 -.5l28 1l35.5 2.5l30 3M479 900l-2.5 -4l0 -2l1 -2l1.5 -2l3.5 -2l5.5 -2.5l8 -2l10 -2l14 -1.5M520 691l-14 -2l-10.5 -2.5l-7.5 -3l-5 -3M520 798.5l-26 3l-27.5 1.5l-28 .5l-24 -1.5l-16 -2l-13 -3.5l-5 -2.5l-4.5 -3.5l-1.5 -2.5l-1 -3.5l.5 -4l1.5 -2l3 -3l4 -2.5l10 -3l16 -2.5l22 -.5l30.5 1.5l31 2.5l28 3.5M483 900l-1.5 -2l-1 -2l0 -2l1.5 -2l2 -2l3 -2l5 -2l7.5 -2l20.5 -3M520 690l-18 -3.5l-8 -2.5l-6 -3.5M520 796.5l-26 3.5l-23.5 2l-26 0l-26 -1l-18 -2.5l-12 -3.5l-5.5 -2.5l-2.5 -2l-2 -3l-1 -3l1 -4l1.5 -2l2 -2l4.5 -2.5l4 -1.5l8 -2l16 -2l24 0l32 1.5l25.5 2.5l24 3.5M488 900l-2 -2l-.5 -2l0 -2l1 -2l2.5 -2l4 -2l7 -2l8 -2l12 -1.5M520 688.5l-10.5 -2l-7.5 -2l-5 -2l-3.5 -2M520 794.5l-23.5 4l-22 1.5l-24 1l-24 -1l-18 -2l-9 -1.5l-6.5 -2l-7.5 -4l-2 -2l-1.5 -4l1 -4l1.5 -2l3 -2l4 -2l11 -3l16 -1.5l26 0l30 2l23.5 2.5l22 3.5M493.5 900l-2 -2l-1 -2l.5 -2l1 -2l3 -2l5 -2l6 -1.5l14 -2.5M520 686.5l-10 -2l-6.5 -2l-4 -2M520 791.5l-16 4l-23.5 3l-24 1l-24 -.5l-18 -2l-14 -2.5l-5.5 -2l-3.5 -2l-3 -3l-1.5 -3l0 -2l1.5 -2l2 -2l6 -3l12 -3l16 -1l28 .5l31.5 2.5l22 3l14 3.5M499.5 900l-2 -2l-1 -2l0 -2l2 -2l3.5 -2l6 -2l12 -2M520 684.5l-8 -2l-5 -2M507 900l-3 -2l-1 -2l.5 -2l2.5 -2l4.5 -2l9.5 -2M410.5 774.5l14 -1.5l16 0l22 1l18 1.5l17.5 2.5l10 2.5l5.5 2l3.5 2l1 2l-1.5 2l-3 2l-6 2l-9 2l-22 2.5l-24 1l-24 -1l-18 -2.5l-8 -2l-4 -2l-3.5 -2l-1.5 -2l-1 -2l.5 -2l1.5 -2l2 -1.5l5 -2.5zM520 682l-4 -1.5M516 900l-3.5 -2l-1.5 -2l1 -2l3 -2l5 -1.5M414.5 776l12 -1l12 -.5l32 2l16 2l10 2l6.5 2l3.5 2l1 2l-1 2l-4 2l-10.5 2.5l-17.5 2.5l-22 .5l-18 -.5l-16 -2l-6.5 -1l-6 -2l-4 -2l-2 -2l-.5 -2l0 -2l2 -2l5 -2.5zM418.5 778l10 -1l12 -.5l29 2l13 2l8 2l4.5 2l1 2l-1.5 2l-5 2l-15 2.5l-22 1l-20 -1l-7.5 -.5l-9 -2l-5 -2l-2.5 -2l-1 -2l1 -2l2.5 -2zM428.5 780l16 -.5l18 1l12 2l5.5 2l1.5 2l-2.5 2l-8 2l-18.5 1l-20.5 -1l-8.5 -2l-4 -2l-1 -2l2 -2z" fill="none" stroke="#000" stroke-width="1.00" shape-rendering="crispEdges"/>
<text x="0" y="4.3" transform="translate(364.1 725.6) rotate(0)" font-family='"Liberation Sans", sans-serif' font-size="12" text-anchor="middle">0.2</text>
<text x="0" y="4.3" transform="translate(347.6 740.6) rotate(0)" font-family='"Liberation Sans", sans-serif' font-size="12" text-anchor="middle">0.4</text>
<text x="0" y="4.3" transform="translate(388.0 764.0) rotate(0)" font-family='"Liberation Sans", sans-serif' font-size="12" text-anchor="middle">0.8</text>
<text x="0" y="4.3" transform="translate(333.8 783.6) rotate(90)" font-family='"Liberation Sans", sans-serif' font-size="12" text-anchor="middle">0.6</text>
<text x="0" y="4.3" transform="translate(426.9 691.6) rotate(45)" font-family='"Liberation Sans", sans-serif' font-size="12" text-anchor="middle">0.4</text>
<text x="0" y="4.3" transform="translate(447.3 743.2) rotate(0)" font-family='"Liberation Sans", sans-serif' font-size="12" text-anchor="middle">0.4</text>
<text x="0" y="4.3" transform="translate(416.5 752.0) rotate(0)" font-family='"Liberation Sans", sans-serif' font-size="12" text-anchor="middle">0.6</text>
<text x="0" y="4.3" transform="translate(487.0 769.0) rotate(0)" font-family='"Liberation Sans", sans-serif' font-size="12" text-anchor="middle">0.8</text>
<text x="0" y="4.3" transform="translate(516.0 756.4) rotate(0)" font-family='"Liberation Sans", sans-serif' font-size="12" text-anchor="middle">0.6</text>
<text x="0" y="4.3" transform="translate(420.0 800.5) rotate(0)" font-family='"Liberation Sans", sans-serif' font-size="12" text-anchor="middle">0.8</text>
<text x="0" y="4.3" transform="translate(420.0 814.0) rotate(0)" font-family='"Liberation Sans", sans-serif' font-size="12" text-anchor="middle">0.6</text>
<text x="0" y="4.3" transform="translate(420.0 827.7) rotate(0)" font-family='"Liberation Sans", sans-serif' font-size="12" text-anchor="middle">0.4</text>
<text x="0" y="4.3" transform="translate(489.4 860.0) rotate(0)" font-family='"Liberation Sans", sans-serif' font-size="12" text-anchor="middle">0.4</text>
<text x="0" y="4.3" transform="translate(322.6 818.0) rotate(55)" font-family='"Liberation Sans", sans-serif' font-size="12" text-anchor="middle">0.4</text>
<text x="0" y="4.3" transform="translate(378.3 869.8) rotate(55)" font-family='"Liberation Sans", sans-serif' font-size="12" text-anchor="middle">0.2</text>
</g>
<polygon points="359.0,684.6 361.0,689.8 366.6,690.1 362.2,693.7 363.7,699.1 359.0,696.0 354.3,699.1 355.8,693.7 351.4,690.1 357.0,689.8" fill="#000"/>
<rect x="300.5" y="680.5" width="219.7" height="219.7" fill="none" stroke="#000" stroke-width="2.7"/>
<path d="M300.5 672.0 V679 M300.5 902 V907.0 M307.8 676.0 V679 M307.8 902 V905.0 M315.1 676.0 V679 M315.1 902 V905.0 M322.5 676.0 V679 M322.5 902 V905.0 M329.8 676.0 V679 M329.8 902 V905.0 M337.1 672.0 V679 M337.1 902 V907.0 M344.4 676.0 V679 M344.4 902 V905.0 M351.8 676.0 V679 M351.8 902 V905.0 M359.1 676.0 V679 M359.1 902 V905.0 M366.4 676.0 V679 M366.4 902 V905.0 M373.7 672.0 V679 M373.7 902 V907.0 M381.1 676.0 V679 M381.1 902 V905.0 M388.4 676.0 V679 M388.4 902 V905.0 M395.7 676.0 V679 M395.7 902 V905.0 M403.0 676.0 V679 M403.0 902 V905.0 M410.4 672.0 V679 M410.4 902 V907.0 M417.7 676.0 V679 M417.7 902 V905.0 M425.0 676.0 V679 M425.0 902 V905.0 M432.3 676.0 V679 M432.3 902 V905.0 M439.6 676.0 V679 M439.6 902 V905.0 M447.0 672.0 V679 M447.0 902 V907.0 M454.3 676.0 V679 M454.3 902 V905.0 M461.6 676.0 V679 M461.6 902 V905.0 M468.9 676.0 V679 M468.9 902 V905.0 M476.3 676.0 V679 M476.3 902 V905.0 M483.6 672.0 V679 M483.6 902 V907.0 M490.9 676.0 V679 M490.9 902 V905.0 M498.2 676.0 V679 M498.2 902 V905.0 M505.6 676.0 V679 M505.6 902 V905.0 M512.9 676.0 V679 M512.9 902 V905.0 M520.2 672.0 V679 M520.2 902 V907.0 M292.0 680.5 H299 M522 680.5 H527.0 M295.0 692.7 H299 M522 692.7 H525.0 M295.0 704.9 H299 M522 704.9 H525.0 M292.0 717.1 H299 M522 717.1 H527.0 M295.0 729.3 H299 M522 729.3 H525.0 M295.0 741.5 H299 M522 741.5 H525.0 M292.0 753.7 H299 M522 753.7 H527.0 M295.0 765.9 H299 M522 765.9 H525.0 M295.0 778.1 H299 M522 778.1 H525.0 M292.0 790.4 H299 M522 790.4 H527.0 M295.0 802.6 H299 M522 802.6 H525.0 M295.0 814.8 H299 M522 814.8 H525.0 M292.0 827.0 H299 M522 827.0 H527.0 M295.0 839.2 H299 M522 839.2 H525.0 M295.0 851.4 H299 M522 851.4 H525.0 M292.0 863.6 H299 M522 863.6 H527.0 M295.0 875.8 H299 M522 875.8 H525.0 M295.0 888.0 H299 M522 888.0 H525.0 M292.0 900.2 H299 M522 900.2 H527.0 " stroke="#000" stroke-width="1.1"/>
<text x="284.0" y="687.2" font-family='"Liberation Sans", sans-serif' font-size="18.70" font-weight="normal" fill="#000" text-anchor="end" >90</text>
<text x="284.0" y="723.8" font-family='"Liberation Sans", sans-serif' font-size="18.70" font-weight="normal" fill="#000" text-anchor="end" >60</text>
<text x="284.0" y="760.4" font-family='"Liberation Sans", sans-serif' font-size="18.70" font-weight="normal" fill="#000" text-anchor="end" >30</text>
<text x="284.0" y="797.1" font-family='"Liberation Sans", sans-serif' font-size="18.70" font-weight="normal" fill="#000" text-anchor="end" >0</text>
<text x="284.0" y="833.7" font-family='"Liberation Sans", sans-serif' font-size="18.70" font-weight="normal" fill="#000" text-anchor="end" >-30</text>
<text x="284.0" y="870.3" font-family='"Liberation Sans", sans-serif' font-size="18.70" font-weight="normal" fill="#000" text-anchor="end" >-60</text>
<text x="284.0" y="906.9" font-family='"Liberation Sans", sans-serif' font-size="18.70" font-weight="normal" fill="#000" text-anchor="end" >-90</text>
<text x="300.5" y="928.8" font-family='"Liberation Sans", sans-serif' font-size="18.70" font-weight="normal" fill="#000" text-anchor="middle" >0.0</text>
<text x="337.1" y="928.8" font-family='"Liberation Sans", sans-serif' font-size="18.70" font-weight="normal" fill="#000" text-anchor="middle" >0.5</text>
<text x="373.7" y="928.8" font-family='"Liberation Sans", sans-serif' font-size="18.70" font-weight="normal" fill="#000" text-anchor="middle" >1.0</text>
<text x="410.4" y="928.8" font-family='"Liberation Sans", sans-serif' font-size="18.70" font-weight="normal" fill="#000" text-anchor="middle" >1.5</text>
<text x="447.0" y="928.8" font-family='"Liberation Sans", sans-serif' font-size="18.70" font-weight="normal" fill="#000" text-anchor="middle" >2.0</text>
<text x="483.6" y="928.8" font-family='"Liberation Sans", sans-serif' font-size="18.70" font-weight="normal" fill="#000" text-anchor="middle" >2.5</text>
<text x="520.2" y="928.8" font-family='"Liberation Sans", sans-serif' font-size="18.70" font-weight="normal" fill="#000" text-anchor="middle" >3.0</text>
<text x="292.4" y="668.0" font-family='"Liberation Serif", serif' font-size="15.00" font-weight="bold" fill="#000" text-anchor="start" textLength="235.0" lengthAdjust="spacingAndGlyphs" ><tspan font-weight="normal" font-family='"Liberation Serif", serif'>ϕ</tspan>= 79.0 +/- 10.0° <tspan font-weight="normal">δ</tspan>t= 0.80 +/-0.20s</text>
<text transform="translate(247.1 789.6) rotate(-90)" font-family='"Liberation Serif", serif' font-size="16.5" font-weight="bold" text-anchor="middle" textLength="159" lengthAdjust="spacingAndGlyphs">Fast direction (degree)</text>
<text x="351.2" y="954.6" font-family='"Liberation Serif", serif' font-size="15.20" font-weight="bold" fill="#000" text-anchor="start" textLength="117.5" lengthAdjust="spacingAndGlyphs" >Splitting time (s)</text>
<text x="208.0" y="980.0" font-family='"Liberation Sans", sans-serif' font-size="20.50" font-weight="normal" fill="#000" text-anchor="start" textLength="405.5" lengthAdjust="spacingAndGlyphs" >Ror= 3.01; Rot= 1.56; Rct= 1.29; Rct/Rot= 0.83</text></svg>
</body></html>
